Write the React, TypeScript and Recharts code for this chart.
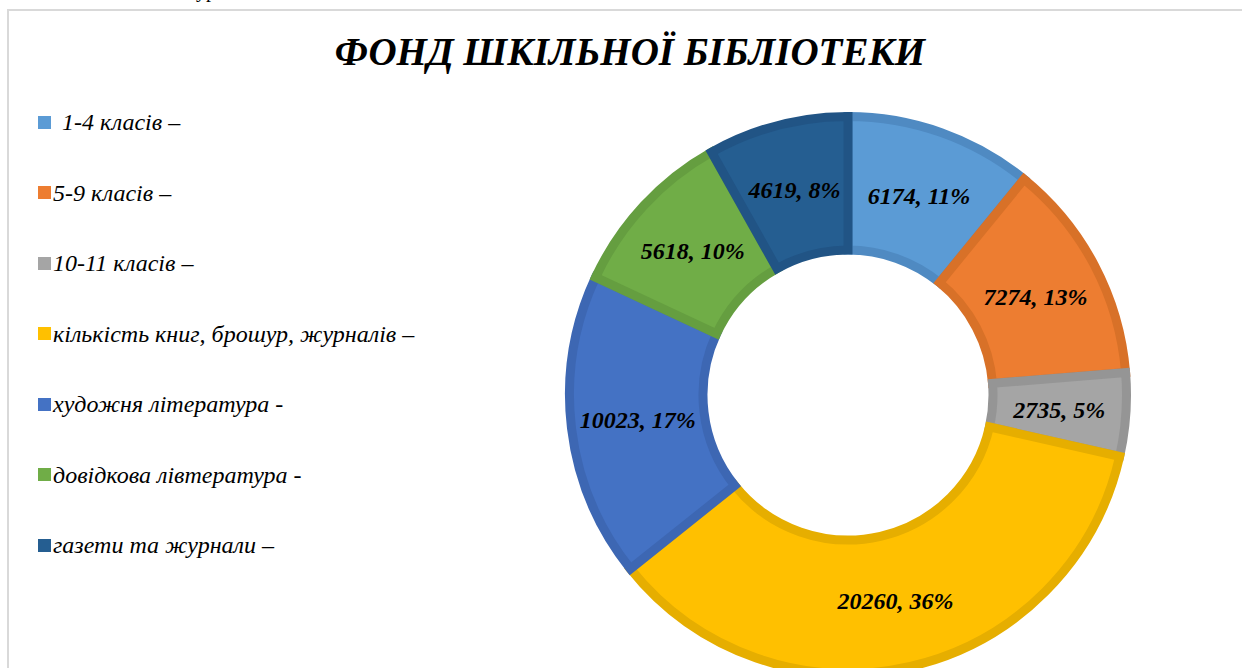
import React from "react";
import { PieChart, Pie, Cell } from "recharts";

const categories = [
  " 1-4 класів –",
  "5-9 класів –",
  "10-11 класів –",
  "кількість книг, брошур, журналів –",
  "художня література -",
  "довідкова лівтература -",
  "газети та журнали –",
];
const values = [6174, 7274, 2735, 20260, 10023, 5618, 4619];
const percentLabels = ["11%", "13%", "5%", "36%", "17%", "10%", "8%"];

const fills = ["#5B9BD5", "#ED7D31", "#A5A5A5", "#FFC000", "#4472C4", "#70AD47", "#255E91"];
const borders = ["#4F8AC2", "#D87128", "#959595", "#E6AE00", "#3D67B3", "#659E40", "#215485"];

const data = categories.map((name, i) => ({ name, value: values[i], pct: percentLabels[i] }));

const serif = '"Liberation Serif", "Times New Roman", serif';
const RADIAN = Math.PI / 180;

const renderLabel = (props: any) => {
  const { cx, cy, midAngle, innerRadius, outerRadius, index } = props;
  const r = (innerRadius + outerRadius) / 2;
  const x = cx + r * Math.cos(-midAngle * RADIAN);
  const y = cy + r * Math.sin(-midAngle * RADIAN);
  return (
    <text
      x={x}
      y={y}
      textAnchor="middle"
      dominantBaseline="central"
      fill="#000"
      fontFamily={serif}
      fontStyle="italic"
      fontWeight="bold"
      fontSize={24}
    >
      {`${values[index]}, ${percentLabels[index]}`}
    </text>
  );
};

function LegendBlock() {
  return (
    <div
      style={{
        position: "absolute",
        left: 38,
        top: 106,
        fontFamily: serif,
        fontStyle: "italic",
        fontSize: 24,
        lineHeight: "32px",
      }}
    >
      {categories.map((name, i) => (
        <div
          key={name}
          style={{
            position: "absolute",
            left: 0,
            top: i * 70.5,
            display: "flex",
            alignItems: "center",
            whiteSpace: "pre",
            color: "#000",
          }}
        >
          <span
            style={{
              display: "inline-block",
              width: 13,
              height: 13,
              background: fills[i],
              marginRight: i === 0 ? 5 : 2,
            }}
          />
          {name}
        </div>
      ))}
    </div>
  );
}

export default function App() {
  return (
    <div
      style={{
        position: "fixed",
        left: 0,
        top: 0,
        width: 1242,
        height: 668,
        background: "#fff",
        overflow: "hidden",
      }}
    >
      <div
        style={{
          position: "absolute",
          left: 196,
          top: -20,
          fontFamily: serif,
          fontSize: 20,
          lineHeight: "20px",
        }}
      >
        ур
      </div>
      <div
        style={{
          position: "absolute",
          left: 7,
          top: 9,
          width: 1300,
          height: 700,
          borderLeft: "2px solid #d9d9d9",
          borderTop: "2px solid #d9d9d9",
        }}
      />
      <div
        style={{
          position: "absolute",
          left: 0,
          width: 1260,
          top: 28,
          textAlign: "center",
          fontFamily: serif,
          fontStyle: "italic",
          fontWeight: "bold",
          fontSize: 39,
          lineHeight: "48px",
        }}
      >
        ФОНД ШКІЛЬНОЇ БІБЛІОТЕКИ
      </div>
      <LegendBlock />
      <div style={{ position: "absolute", left: 0, top: 0 }}>
        <PieChart width={1242} height={668} margin={{ top: 0, right: 0, bottom: 0, left: 0 }}>
          <Pie
            data={data}
            dataKey="value"
            nameKey="name"
            cx={848}
            cy={395}
            innerRadius={145}
            outerRadius={278.5}
            startAngle={90}
            endAngle={-270}
            label={renderLabel}
            labelLine={false}
            isAnimationActive={false}
          >
            {data.map((entry, index) => (
              <Cell
                key={`cell-${index}`}
                fill={fills[index]}
                stroke={borders[index]}
                strokeWidth={9}
                strokeLinejoin="miter"
              />
            ))}
          </Pie>
        </PieChart>
      </div>
    </div>
  );
}
